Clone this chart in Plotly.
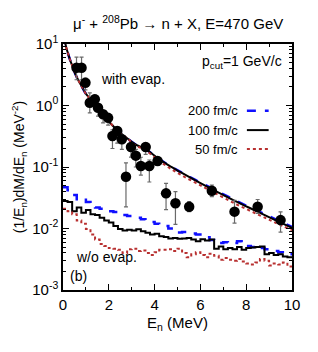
import plotly.graph_objects as go

# ---- data: experimental points ----
exp_E = [0.59, 0.81, 0.98, 1.17, 1.39, 1.53, 1.75, 1.97, 2.16, 2.37, 2.57, 2.75, 2.97,
         3.18, 3.40, 3.61, 3.77, 4.13, 4.50, 4.91, 5.51, 6.50, 7.49, 8.50, 9.50]
exp_val = [4.12, 4.12, 2.35, 1.11, 1.26, 0.92, 0.72, 0.63, 0.32, 0.385, 0.283, 0.0695, 0.211,
           0.153, 0.104, 0.211, 0.104, 0.125, 0.0373, 0.0257, 0.0226, 0.0412, 0.0188, 0.0226, 0.0137]
exp_err_plus = [2.0, 2.0, 0.45, 0.5, 0.22, 0.15, 0.1, 0.08, 0.08, 0.07, 0.05, 0.047, 0.035,
                0.04, 0.04, 0.034, 0.026, 0.02, 0.017, 0.014, 0.0047, 0.0097, 0.01, 0.007, 0.005]
exp_err_minus = [1.5, 1.5, 0.55, 0.35, 0.35, 0.25, 0.2, 0.15, 0.12, 0.14, 0.09, 0.047, 0.066,
                 0.053, 0.03, 0.05, 0.047, 0.018, 0.017, 0.014, 0.0038, 0.0083, 0.0066, 0.005, 0.005]

# ---- data: calculations with evaporation ----
evap_E = [0.05, 0.12, 0.2, 0.31, 0.42, 0.53, 0.67, 0.82, 1.0, 1.11, 1.25, 1.4, 1.6, 1.84, 2.05,
          2.28, 2.55, 2.86, 3.2, 3.61, 4.12, 4.6, 5.11, 5.8, 6.5, 7.5, 8.47, 9.2, 10.0]
evap_100 = [14.0, 9.5, 7.4, 5.5, 4.3, 3.3, 2.57, 2.04, 1.55, 1.38, 1.17, 1.02, 0.81, 0.63, 0.525,
            0.427, 0.347, 0.282, 0.229, 0.195, 0.141, 0.107, 0.083, 0.060, 0.0437, 0.0282, 0.019, 0.0141, 0.0102]
evap_200 = [14.0, 9.5, 7.4, 5.5, 4.3, 3.3, 2.57, 2.04, 1.55, 1.38, 1.17, 1.02, 0.81, 0.63, 0.525,
            0.427, 0.347, 0.282, 0.229, 0.195, 0.141, 0.108, 0.084, 0.061, 0.045, 0.029, 0.0195, 0.0146, 0.0106]
evap_50 = [14.0, 9.5, 7.4, 5.5, 4.3, 3.3, 2.57, 2.04, 1.55, 1.38, 1.17, 1.02, 0.81, 0.63, 0.525,
           0.427, 0.347, 0.28, 0.222, 0.186, 0.132, 0.099, 0.076, 0.055, 0.040, 0.0255, 0.0172, 0.0128, 0.0094]

# ---- data: calculations without evaporation (histograms, 0.2 MeV bins) ----
bin_E = [0.0, 0.2, 0.4, 0.6, 0.8, 1.0, 1.2, 1.4, 1.6, 1.8, 2.0, 2.2, 2.4, 2.6, 2.8, 3.0, 3.2, 3.4,
         3.6, 3.8, 4.0, 4.2, 4.4, 4.6, 4.8, 5.0, 5.2, 5.4, 5.6, 5.8, 6.0, 6.2, 6.4, 6.6, 6.8, 7.0,
         7.2, 7.4, 7.6, 7.8, 8.0, 8.2, 8.4, 8.6, 8.8, 9.0, 9.2, 9.4, 9.6, 9.8, 10.0]
noevap_100 = [0.028, 0.027, 0.019, 0.022, 0.018, 0.020, 0.017, 0.0165, 0.0150, 0.0135, 0.0125,
              0.0110, 0.0098, 0.0093, 0.0095, 0.0093, 0.0097, 0.0090, 0.0085, 0.0080, 0.0082,
              0.0075, 0.0073, 0.0069, 0.0070, 0.0068, 0.0069, 0.0070, 0.0066, 0.0062, 0.0067,
              0.0064, 0.0066, 0.0047, 0.0051, 0.0046, 0.0048, 0.0046, 0.0050, 0.0045, 0.0048,
              0.0049, 0.0050, 0.0051, 0.0038, 0.0040, 0.0037, 0.0038, 0.0035, 0.0034, 0.0034]
noevap_200 = [0.047, 0.042, 0.035, 0.030, 0.031, 0.027, 0.025, 0.022, 0.021, 0.020, 0.019,
              0.0185, 0.0175, 0.0165, 0.0160, 0.0158, 0.0150, 0.0142, 0.0135, 0.0128, 0.0120,
              0.0115, 0.0110, 0.0100, 0.0092, 0.0086, 0.0088, 0.0085, 0.0083, 0.0080, 0.0074,
              0.0072, 0.0065, 0.0060, 0.0058, 0.0060, 0.0057, 0.0058, 0.0062, 0.0056, 0.0052,
              0.0050, 0.0052, 0.0048, 0.0046, 0.0045, 0.0043, 0.0041, 0.0040, 0.0038, 0.0038]
noevap_50 = [0.021, 0.019, 0.017, 0.0135, 0.012, 0.0098, 0.0080, 0.0066, 0.0056, 0.0052, 0.0048,
             0.0047, 0.0045, 0.0040, 0.0046, 0.0047, 0.0043, 0.0044, 0.0040, 0.0037, 0.0041,
             0.0045, 0.0045, 0.0046, 0.0043, 0.0047, 0.0040, 0.0034, 0.0038, 0.0041, 0.0037,
             0.0034, 0.0039, 0.0036, 0.0031, 0.0033, 0.0031, 0.0030, 0.0032, 0.0029, 0.0027,
             0.0026, 0.0028, 0.0032, 0.0030, 0.0025, 0.0027, 0.0026, 0.0028, 0.0024, 0.0024]

legend_labels = ["200 fm/c", "100 fm/c", "50 fm/c"]
y_tickvals = [1e-3, 1e-2, 1e-1, 1e0, 1e1]
y_ticktext = ["10<sup>-3</sup>", "10<sup>-2</sup>", "10<sup>-1</sup>", "10<sup>0</sup>", "10<sup>1</sup>"]
x_tickvals = [0, 2, 4, 6, 8, 10]

BLUE = "#1010ff"
RED = "#b83030"
FONT = "Liberation Sans"

fig = go.Figure()

styles = [
    (evap_200, noevap_200, dict(color=BLUE, width=2.5, dash="dash")),
    (evap_100, noevap_100, dict(color="black", width=2)),
    (evap_50, noevap_50, dict(color=RED, width=2, dash="dot")),
]
for ev, ne, ln in styles:
    fig.add_trace(go.Scatter(x=bin_E, y=ne, mode="lines", line=dict(shape="hv", **ln),
                             showlegend=False, hoverinfo="skip"))
for ev, ne, ln in styles:
    fig.add_trace(go.Scatter(x=evap_E, y=ev, mode="lines", line=dict(shape="spline", **ln),
                             showlegend=False, hoverinfo="skip"))

fig.add_trace(go.Scatter(
    x=exp_E, y=exp_val, mode="markers",
    marker=dict(color="black", size=10.5),
    error_y=dict(type="data", symmetric=False, array=exp_err_plus, arrayminus=exp_err_minus,
                 color="#6a6a6a", thickness=1.2, width=2),
    showlegend=False))

# legend drawn manually (text left of sample line)
leg_y = [0.729, 0.650, 0.573]
for (ev, ne, ln), lab, yy in zip(styles, legend_labels, leg_y):
    fig.add_annotation(xref="paper", yref="paper", x=0.774, y=yy, text=lab, showarrow=False,
                       xanchor="right", yanchor="middle", font=dict(size=13, family=FONT, color="black"))
    fig.add_shape(type="line", xref="paper", yref="paper", x0=0.803, x1=0.898, y0=yy, y1=yy,
                  line=ln)

fig.add_annotation(xref="paper", yref="paper", x=0.5, y=1.089,
                   text="μ<sup>-</sup> + <sup>208</sup>Pb → n + X, E=470 GeV",
                   showarrow=False, xanchor="center", yanchor="middle",
                   font=dict(size=15, family=FONT, color="black"))
fig.add_annotation(xref="paper", yref="paper", x=0.966, y=0.927, text="p<sub>cut</sub>=1 GeV/c",
                   showarrow=False, xanchor="right", yanchor="middle",
                   font=dict(size=14, family=FONT, color="black"))
fig.add_annotation(xref="paper", yref="paper", x=0.305, y=0.858, text="with evap.",
                   showarrow=False, xanchor="center", yanchor="middle",
                   font=dict(size=14, family=FONT, color="black"))
fig.add_annotation(xref="paper", yref="paper", x=0.191, y=0.134, text="w/o evap.",
                   showarrow=False, xanchor="center", yanchor="middle",
                   font=dict(size=14, family=FONT, color="black"))
fig.add_annotation(xref="paper", yref="paper", x=0.067, y=0.057, text="(b)",
                   showarrow=False, xanchor="center", yanchor="middle",
                   font=dict(size=14, family=FONT, color="black"))

fig.update_xaxes(range=[0, 10], tickmode="array", tickvals=x_tickvals, automargin=False,
                 ticks="inside", ticklen=6, tickwidth=1, tickcolor="black",
                 minor=dict(ticks="inside", ticklen=3, dtick=1, tickcolor="black"),
                 showline=True, linecolor="black", linewidth=1.5, mirror="ticks",
                 showgrid=False, zeroline=False,
                 tickfont=dict(size=15, family=FONT, color="black"),
                 title=dict(text="E<sub>n</sub> (MeV)", font=dict(size=15, family=FONT, color="black"),
                            standoff=6))
fig.update_yaxes(type="log", range=[-3, 1], tickmode="array", tickvals=y_tickvals, ticktext=y_ticktext,
                 automargin=False,
                 ticks="inside", ticklen=6, tickwidth=1, tickcolor="black",
                 minor=dict(ticks="inside", ticklen=3, dtick="D1", tickcolor="black"),
                 showline=True, linecolor="black", linewidth=1.5, mirror="ticks",
                 showgrid=False, zeroline=False,
                 tickfont=dict(size=15, family=FONT, color="black"),
                 title=dict(text="(1/E<sub>n</sub>)dM/dE<sub>n</sub> (MeV<sup>-2</sup>)",
                            font=dict(size=14, family=FONT, color="black"), standoff=4))

# page body has a default offset; margins compensate so the plot box lands where the reference has it
fig.update_layout(width=318, height=352, margin=dict(l=55, r=34, t=36, b=70),
                  plot_bgcolor="white", paper_bgcolor="white",
                  font=dict(family=FONT, color="black"))

fig.write_html("out.html")
